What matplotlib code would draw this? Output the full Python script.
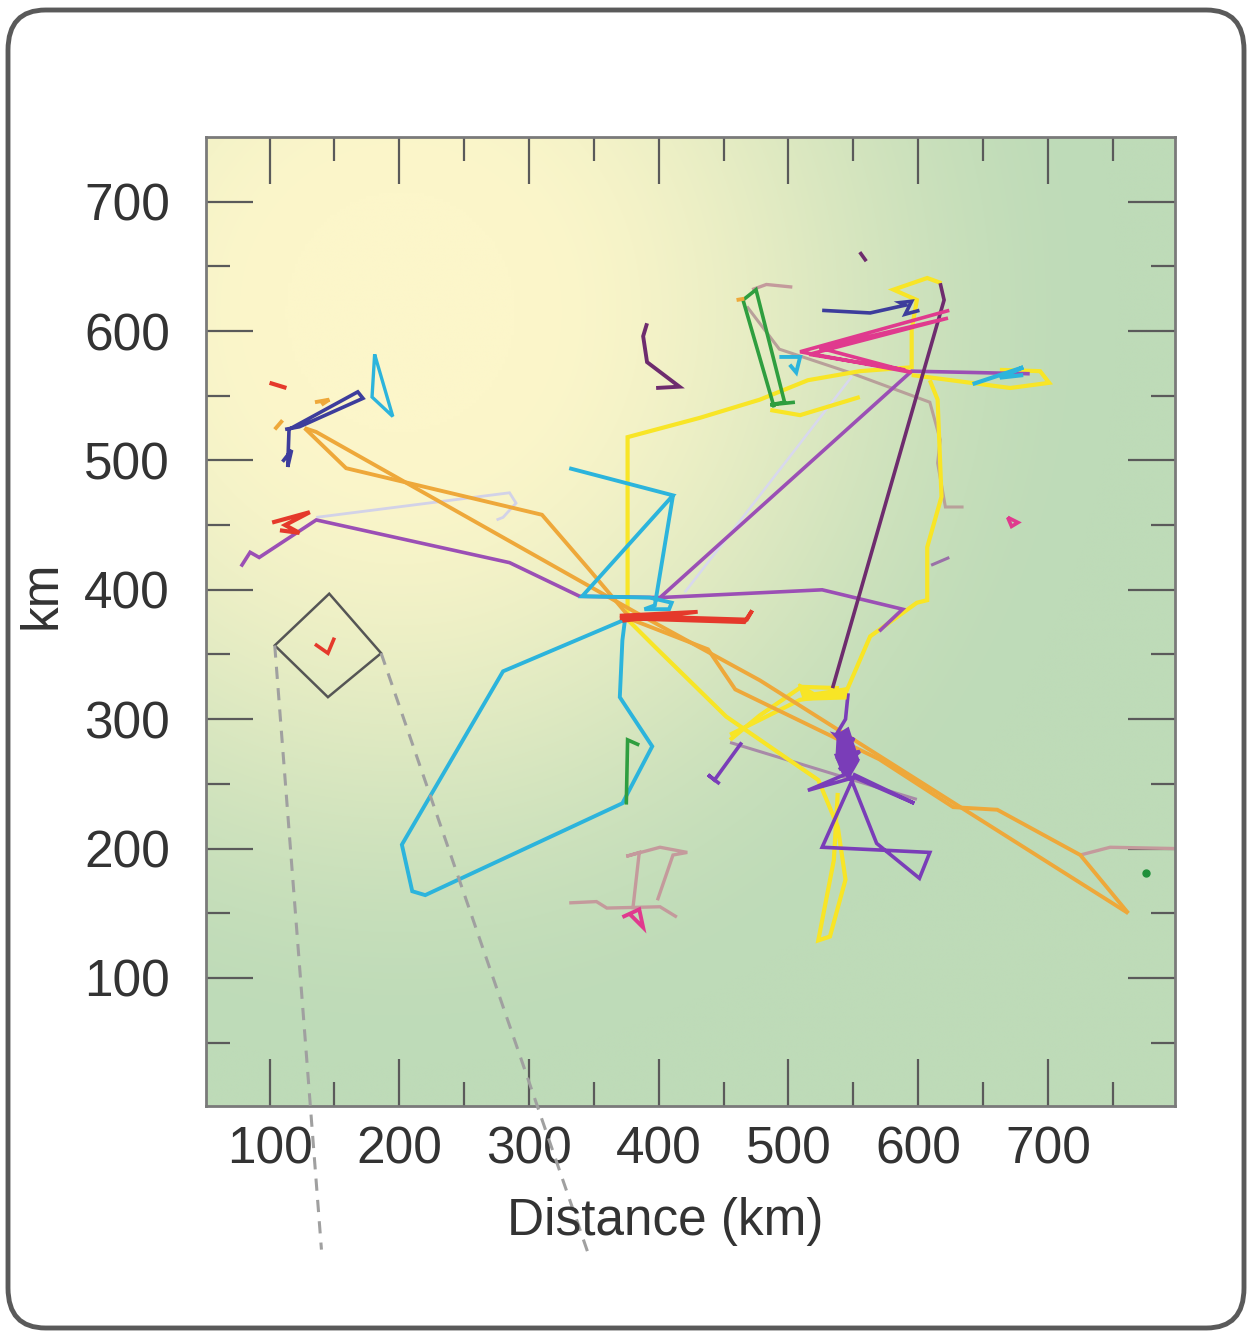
import numpy as np
import matplotlib
matplotlib.use("Agg")
import matplotlib.pyplot as plt
from matplotlib.patches import FancyBboxPatch, Polygon

plt.rcParams['font.family'] = ['Liberation Sans', 'DejaVu Sans']

# ---------------- data (km) ----------------
xticks_major = [100, 200, 300, 400, 500, 600, 700]
yticks_major = [100, 200, 300, 400, 500, 600, 700]
x_label = "Distance (km)"
y_label = "km"

orange_a = [(127, 525), (159, 494), (310, 458), (347, 415), (379, 377), (438, 354),
            (459, 323), (570, 269), (627, 232), (661, 230), (725, 195), (762, 150)]
orange_b = [(762, 150), (478, 330), (385, 381), (136, 522), (127, 525)]
orange_bits = [[(135, 545), (146, 547), (140, 543)], [(104, 524), (110, 531)],
               [(460, 624), (466, 625)]]

purple_a = [(78, 418), (85, 429), (92, 425), (136, 454), (285, 421), (339, 395),
            (401, 394), (595, 569), (686, 567)]
purple_b = [(401, 394), (526, 400), (588, 385), (570, 368)]

plum_a = [(391, 606), (388, 596), (391, 576), (416, 557), (398, 556)]
plum_b = [(617, 637), (620, 624), (534, 324)]
plum_c = [(555, 661), (560, 654)]

violet_a = [(546, 320), (544, 300), (538, 290), (551, 284), (536, 288), (553, 269),
            (539, 261), (555, 275), (537, 272), (543, 257), (515, 245), (551, 255),
            (597, 235), (551, 257), (526, 201), (609, 197), (601, 177), (568, 204),
            (547, 257)]
violet_blob = [(538, 288), (546, 293), (554, 268), (546, 254), (537, 270)]
violet_b = [(464, 282), (443, 253), (438, 257), (447, 250)]

yellow_a = [(376, 377), (376, 518), (432, 533), (478, 547), (515, 562), (555, 569),
            (595, 572), (595, 601), (599, 624), (581, 632), (607, 641), (618, 637)]
yellow_b = [(609, 562), (615, 547), (618, 472), (607, 433), (607, 392), (599, 390),
            (563, 364), (544, 320)]
yellow_c = [(544, 320), (509, 315), (455, 288)]
yellow_d = [(539, 324), (510, 325), (478, 303), (455, 284)]
yellow_blob = [(508, 327), (520, 320), (545, 324), (544, 316), (512, 315)]
yellow_e = [(376, 377), (397, 356), (452, 302), (523, 253), (538, 217), (544, 176),
            (532, 132), (523, 129), (535, 191), (538, 243)]
yellow_f = [(595, 566), (671, 556), (701, 560), (694, 569), (663, 570)]
yellow_g = [(486, 539), (509, 535), (555, 549)]

cyan_a = [(331, 494), (411, 473), (341, 395), (393, 394), (410, 390), (408, 385),
          (389, 385), (397, 388), (411, 473)]
cyan_b = [(374, 377), (280, 337), (202, 203), (210, 167), (220, 164), (372, 235),
          (395, 279), (370, 317), (372, 361), (374, 377)]
cyan_c = [(181, 582), (179, 549), (195, 534), (181, 582)]
cyan_d = [(493, 580), (509, 580), (506, 568), (501, 574)]
cyan_e = [(642, 559), (681, 572), (663, 564), (681, 566)]

red_a = [(370, 378), (466, 375), (472, 384), (468, 377), (370, 380), (430, 383), (372, 376)]
red_b = [(102, 452), (131, 460), (112, 450), (123, 444), (108, 446)]
red_c = [(100, 560), (113, 556)]
red_d = [(135, 358), (145, 351), (150, 363)]

navy_a = [(110, 499), (117, 508), (114, 495), (115, 524), (168, 553), (172, 548),
          (123, 526), (112, 524)]
navy_b = [(526, 616), (563, 614), (590, 620), (586, 622), (595, 623), (590, 613), (601, 616)]

green_a = [(489, 541), (465, 624), (475, 632), (497, 545), (486, 543), (505, 545)]
green_b = [(375, 234), (376, 284), (385, 280)]
green_dot = (776, 181)

magenta_a = [(624, 616), (509, 584), (595, 568), (524, 587), (623, 610), (516, 582), (590, 570)]
magenta_b = [(669, 456), (677, 452), (672, 449), (669, 456)]
magenta_c = [(372, 147), (385, 153), (388, 139), (378, 149)]

mauve_a = [(331, 158), (352, 159), (360, 154), (401, 155), (414, 147)]
mauve_b = [(380, 153), (385, 197), (375, 194), (401, 201), (422, 197), (411, 195), (399, 160)]
mauve_c = [(472, 632), (483, 636), (503, 634)]
mauve_d = [(468, 619), (493, 586), (547, 568), (609, 545), (617, 516), (615, 498),
           (621, 464), (635, 464)]
mauve_e = [(610, 419), (624, 425)]
mauve_f = [(725, 195), (748, 201), (798, 200)]
mauve_g = [(455, 282), (599, 238)]

lavender_a = [(136, 456), (285, 475), (290, 467), (280, 456), (275, 454)]
lavender_b = [(420, 398), (549, 565)]

inset_box = [(104, 357), (146, 397), (186, 351), (145, 317)]
guide_left = [(104, 357), (140, -110)]
guide_right = [(186, 351), (347, -117)]

tracks = [
    (lavender_a, '#d2d2e8', 2.0), (lavender_b, '#d8d8ee', 1.8),
    (mauve_a, '#c49a9c', 2.4), (mauve_b, '#c49a9c', 2.4), (mauve_c, '#c49a9c', 2.4),
    (mauve_d, '#b8a09a', 2.2), (mauve_e, '#9a70a8', 2.2), (mauve_f, '#c49a9c', 2.4),
    (mauve_g, '#a88aa8', 2.2),
    (yellow_a, '#f8e526', 3.0), (yellow_b, '#f8e526', 3.0), (yellow_c, '#f8e526', 3.0),
    (yellow_d, '#f8e526', 3.0), (yellow_e, '#f8e526', 3.0), (yellow_f, '#f8e526', 3.0),
    (yellow_g, '#f8e526', 3.0),
    (orange_a, '#eea83a', 2.8), (orange_b, '#eea83a', 2.8),
    (purple_a, '#9b4fb5', 2.6), (purple_b, '#9b4fb5', 2.6),
    (plum_a, '#6e2c6e', 2.8), (plum_b, '#6e2c6e', 2.6), (plum_c, '#6e2c6e', 2.6),
    (violet_a, '#7a3db8', 2.6), (violet_b, '#7a3db8', 2.6),
    (cyan_a, '#2cb4dc', 2.8), (cyan_b, '#2cb4dc', 2.8), (cyan_c, '#2cb4dc', 2.4),
    (cyan_d, '#2cb4dc', 2.8), (cyan_e, '#2cb4dc', 3.0),
    (red_a, '#e5392b', 2.8), (red_b, '#e5392b', 3.0), (red_c, '#e5392b', 3.0),
    (red_d, '#e5392b', 2.6),
    (navy_a, '#3d3d9c', 2.6), (navy_b, '#3d3d9c', 2.6),
    (green_a, '#2f9e3f', 2.6), (green_b, '#2f9e3f', 2.6),
    (magenta_a, '#e03a8e', 2.6), (magenta_b, '#e03a8e', 2.6), (magenta_c, '#e03a8e', 2.8),
]
for seg in orange_bits:
    tracks.append((seg, '#eea83a', 2.8))

fills = [(violet_blob, '#7a3db8'), (yellow_blob, '#f8e526')]

# ---------------- figure ----------------
fig = plt.figure(figsize=(12.52, 13.36), dpi=100)
fig.patch.set_facecolor('white')

frame = FancyBboxPatch((8 / 1252, 8 / 1336), 1236 / 1252, 1318 / 1336,
                       boxstyle="round,pad=0,rounding_size=0.03",
                       transform=fig.transFigure, facecolor='none',
                       edgecolor='#5a5a5a', linewidth=3.5, zorder=10)
fig.patches.append(frame)

ax = fig.add_axes([206 / 1252, 1 - 1106 / 1336, 969 / 1252, 969 / 1336])
xlim = (51, 798)
ylim = (1, 750)
ax.set_xlim(*xlim)
ax.set_ylim(*ylim)

# background gradient (cream-yellow upper left to green lower right)
nx, ny = 300, 300
X, Y = np.meshgrid(np.linspace(0, 1, nx), np.linspace(1, 0, ny))
r = np.sqrt(((X - 0.20) / 1.0) ** 2 + ((Y - 0.82) / 1.05) ** 2)
t = np.clip((r - 0.12) / 0.62, 0, 1)
t = t * t * (3 - 2 * t)
c_yellow = np.array([252, 246, 202]) / 255
c_green = np.array([190, 219, 184]) / 255
img = c_yellow[None, None, :] * (1 - t[..., None]) + c_green[None, None, :] * t[..., None]
ax.imshow(img, extent=[xlim[0], xlim[1], ylim[0], ylim[1]], aspect='auto',
          zorder=0, interpolation='bilinear')

for pts, col, lw in tracks:
    arr = np.array(pts, dtype=float)
    ax.plot(arr[:, 0], arr[:, 1], color=col, lw=lw, solid_joinstyle='miter',
            solid_capstyle='butt', zorder=2)
for pts, col in fills:
    ax.add_patch(Polygon(pts, closed=True, facecolor=col, edgecolor=col, lw=1.5, zorder=2))

ax.plot([green_dot[0]], [green_dot[1]], 'o', color='#1f8f3a', ms=5, zorder=3)

ax.add_patch(Polygon(inset_box, closed=True, fill=False, edgecolor='#555555',
                     lw=1.8, zorder=3))
for g in (guide_left, guide_right):
    arr = np.array(g, dtype=float)
    ax.plot(arr[:, 0], arr[:, 1], color='#a0a0a0', lw=2.2, ls=(0, (4, 3)),
            clip_on=False, zorder=4)

# ticks
ax.set_xticks(xticks_major)
ax.set_yticks(yticks_major)
ax.set_xticks([v + 50 for v in xticks_major], minor=True)
ax.set_yticks([50] + [v + 50 for v in xticks_major[:-1]], minor=True)
ax.tick_params(which='both', direction='in', top=True, right=True,
               color='#5a5a5a', width=1.6)
ax.tick_params(which='major', length=34)
ax.tick_params(which='minor', length=17)
ax.tick_params(axis='x', which='major', labelsize=37, labelcolor='#333333', pad=14)
ax.tick_params(axis='y', which='major', labelsize=37, labelcolor='#333333', pad=26)
for s in ax.spines.values():
    s.set_color('#7a7a7a')
    s.set_linewidth(2)

fig.text(42 / 1252, 1 - 595 / 1336, y_label, rotation=90, fontsize=37,
         color='#333333', ha='center', va='center')
fig.text(665 / 1252, 1 - 1222 / 1336, x_label, fontsize=37,
         color='#333333', ha='center', va='center')

fig.savefig('out.png', dpi=100, facecolor='white')
